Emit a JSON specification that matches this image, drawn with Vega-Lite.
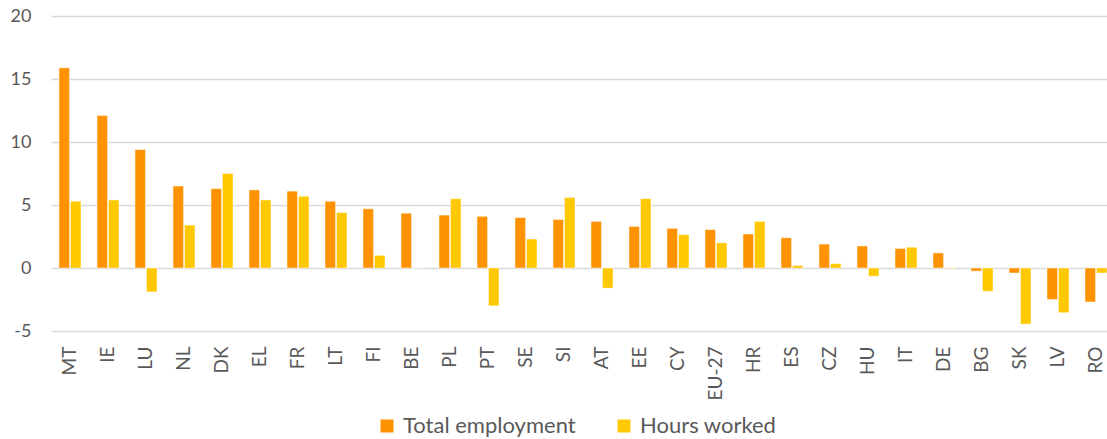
{
  "$schema": "https://vega.github.io/schema/vega-lite/v6.json",
  "autosize": {"type": "none"},
  "padding": {"left": 51, "top": 16, "right": 0, "bottom": 108},
  "width": 1064,
  "height": 315,
  "background": "white",
  "config": {
    "view": {"stroke": null},
    "font": "Lato",
    "axis": {"labelFont": "Lato", "labelColor": "#595959"},
    "legend": {"labelFont": "Lato", "labelColor": "#595959"}
  },
  "data": {
    "values": [
      {"country": "MT", "series": "Total employment", "value": 15.9},
      {"country": "MT", "series": "Hours worked", "value": 5.3},
      {"country": "IE", "series": "Total employment", "value": 12.1},
      {"country": "IE", "series": "Hours worked", "value": 5.4},
      {"country": "LU", "series": "Total employment", "value": 9.4},
      {"country": "LU", "series": "Hours worked", "value": -1.9},
      {"country": "NL", "series": "Total employment", "value": 6.5},
      {"country": "NL", "series": "Hours worked", "value": 3.4},
      {"country": "DK", "series": "Total employment", "value": 6.3},
      {"country": "DK", "series": "Hours worked", "value": 7.5},
      {"country": "EL", "series": "Total employment", "value": 6.2},
      {"country": "EL", "series": "Hours worked", "value": 5.4},
      {"country": "FR", "series": "Total employment", "value": 6.1},
      {"country": "FR", "series": "Hours worked", "value": 5.7},
      {"country": "LT", "series": "Total employment", "value": 5.3},
      {"country": "LT", "series": "Hours worked", "value": 4.4},
      {"country": "FI", "series": "Total employment", "value": 4.7},
      {"country": "FI", "series": "Hours worked", "value": 1.0},
      {"country": "BE", "series": "Total employment", "value": 4.35},
      {"country": "BE", "series": "Hours worked", "value": 0},
      {"country": "PL", "series": "Total employment", "value": 4.2},
      {"country": "PL", "series": "Hours worked", "value": 5.5},
      {"country": "PT", "series": "Total employment", "value": 4.1},
      {"country": "PT", "series": "Hours worked", "value": -3.0},
      {"country": "SE", "series": "Total employment", "value": 4.0},
      {"country": "SE", "series": "Hours worked", "value": 2.3},
      {"country": "SI", "series": "Total employment", "value": 3.85},
      {"country": "SI", "series": "Hours worked", "value": 5.6},
      {"country": "AT", "series": "Total employment", "value": 3.7},
      {"country": "AT", "series": "Hours worked", "value": -1.6},
      {"country": "EE", "series": "Total employment", "value": 3.3},
      {"country": "EE", "series": "Hours worked", "value": 5.5},
      {"country": "CY", "series": "Total employment", "value": 3.15},
      {"country": "CY", "series": "Hours worked", "value": 2.65},
      {"country": "EU-27", "series": "Total employment", "value": 3.05},
      {"country": "EU-27", "series": "Hours worked", "value": 2.0},
      {"country": "HR", "series": "Total employment", "value": 2.7},
      {"country": "HR", "series": "Hours worked", "value": 3.7},
      {"country": "ES", "series": "Total employment", "value": 2.4},
      {"country": "ES", "series": "Hours worked", "value": 0.2},
      {"country": "CZ", "series": "Total employment", "value": 1.9},
      {"country": "CZ", "series": "Hours worked", "value": 0.35},
      {"country": "HU", "series": "Total employment", "value": 1.75},
      {"country": "HU", "series": "Hours worked", "value": -0.65},
      {"country": "IT", "series": "Total employment", "value": 1.55},
      {"country": "IT", "series": "Hours worked", "value": 1.65},
      {"country": "DE", "series": "Total employment", "value": 1.2},
      {"country": "DE", "series": "Hours worked", "value": -0.05},
      {"country": "BG", "series": "Total employment", "value": -0.25},
      {"country": "BG", "series": "Hours worked", "value": -1.85},
      {"country": "SK", "series": "Total employment", "value": -0.4},
      {"country": "SK", "series": "Hours worked", "value": -4.45},
      {"country": "LV", "series": "Total employment", "value": -2.5},
      {"country": "LV", "series": "Hours worked", "value": -3.55},
      {"country": "RO", "series": "Total employment", "value": -2.7},
      {"country": "RO", "series": "Hours worked", "value": -0.4}
    ]
  },
  "mark": {"type": "bar", "stroke": "white", "strokeWidth": 0.8, "strokeOpacity": 0.6},
  "encoding": {
    "x": {
      "field": "country",
      "type": "nominal",
      "sort": null,
      "scale": {"paddingInner": 0.42, "paddingOuter": 0.21},
      "axis": {
        "title": null,
        "labelAngle": -90,
        "labelFontSize": 19,
        "labelPadding": 15,
        "ticks": false,
        "domain": false,
        "grid": false
      }
    },
    "xOffset": {
      "field": "series",
      "type": "nominal",
      "sort": ["Total employment", "Hours worked"],
      "scale": {"paddingInner": 0.08}
    },
    "y": {
      "field": "value",
      "type": "quantitative",
      "scale": {"domain": [-5, 20], "nice": false},
      "axis": {
        "title": null,
        "values": [-5, 0, 5, 10, 15, 20],
        "labelExpr": "replace(datum.label, '\u2212', '-')",
        "labelFontSize": 18,
        "labelPadding": 20,
        "ticks": false,
        "domain": false,
        "grid": true,
        "gridColor": "#d9d9d9",
        "gridWidth": 1.5
      }
    },
    "color": {
      "field": "series",
      "type": "nominal",
      "sort": ["Total employment", "Hours worked"],
      "scale": {"domain": ["Total employment", "Hours worked"], "range": ["#FF9200", "#FFC800"]},
      "legend": {
        "title": null,
        "orient": "none",
        "direction": "horizontal",
        "legendX": 325,
        "legendY": 399,
        "symbolType": "square",
        "symbolSize": 169,
        "symbolStrokeWidth": 0,
        "labelFontSize": 22,
        "labelLimit": 400,
        "labelOffset": 5,
        "columnPadding": 37
      }
    }
  }
}
